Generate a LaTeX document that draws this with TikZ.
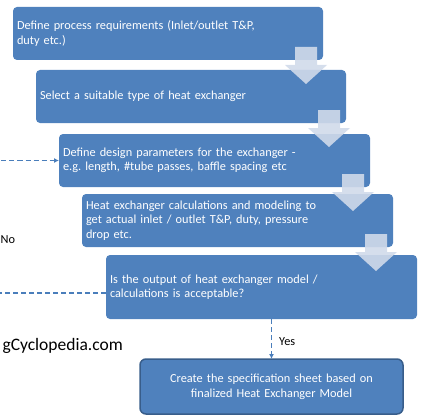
\documentclass[tikz,border=0pt]{standalone}
\usepackage{fontspec}
\setmainfont{Carlito}
\usetikzlibrary{calc,arrows.meta}
\frenchspacing
\definecolor{boxblue}{HTML}{4F81BD}
\definecolor{boxedge}{HTML}{385D8A}
\definecolor{arrfill}{HTML}{D0DAEA}
\definecolor{lineblue}{HTML}{4A7EBB}
\tikzset{
  stepbox/.style={rectangle, rounded corners=4pt, fill=boxblue, text=white,
    minimum width=#1, text width=#1-8pt, inner xsep=4pt, inner ysep=0pt, outer sep=0pt,
    align=left, font=\fontsize{12.3}{14.5}\selectfont\frenchspacing},
  finalbox/.style={rectangle, rounded corners=6pt, fill=boxblue, draw=boxedge, line width=1.5pt,
    text=white, minimum width=263pt, minimum height=55pt, text width=255pt, inner sep=0pt,
    outer sep=0pt, align=center, font=\fontsize{12.3}{15}\selectfont},
  blockarr/.style={fill=arrfill, fill opacity=0.9},
  dashlink/.style={draw=lineblue, line width=1.5pt, dash pattern=on 5pt off 3pt,
    -{Latex[length=5pt,width=5pt]}},
  plainlabel/.style={font=\fontsize{12.3}{14}\selectfont, text=black, inner sep=0pt}
}
\newcommand\bigarrow[1]{\fill[blockarr] ($(#1.south east)+(-28,-13)$) -- ++(22,0) -- ++(0,18) -- ++(10,0) -- ++(-21,19) -- ++(-21,-19) -- ++(10,0) -- cycle;}
\begin{document}
\begin{tikzpicture}[x=1pt,y=-1pt]
\clip (0,0) rectangle (434,420);
\useasboundingbox (0,0) rectangle (434,420);
\node[stepbox=310pt, minimum height=53pt] (b1) at (168,33.5) {Define process requirements (Inlet/outlet T\&P,\\duty etc.)};
\node[stepbox=310pt, minimum height=53pt] (b2) at (191,96.5) {Select a suitable type of heat exchanger};
\node[stepbox=311pt, minimum height=53pt] (b3) at (214.5,160.5) {Define design parameters for the exchanger -\\e.g.\ length, \#tube passes, baffle spacing etc};
\node[stepbox=311pt, minimum height=53pt] (b4) at (237.5,220.5) {Heat exchanger calculations and modeling to\\get actual inlet / outlet T\&P, duty, pressure\\drop etc.};
\node[stepbox=311pt, minimum height=64pt] (b5) at (261.5,287) {Is the output of heat exchanger model /\\calculations is acceptable?};
\node[finalbox] (b6) at (271.5,386.5) {Create the specification sheet based on\\finalized Heat Exchanger Model};
\bigarrow{b1}
\bigarrow{b2}
\bigarrow{b3}
\bigarrow{b4}
\coordinate (nofar) at (-20,293);
\draw[dashlink] ($(b5.west)+(0,6)$) -- (nofar) |- (b3.west);
\node[plainlabel, anchor=west] (nolabel) at (0.5,240) {No};
\draw[dashlink] (b5.south -| b6.north) -- (b6.north);
\node[plainlabel, anchor=west] (yeslabel) at (279,342) {Yes};
\node[font=\fontsize{17.5}{19}\selectfont, text=black, inner sep=0pt, anchor=east] (wm) at (123,346) {gCyclopedia.com};
\end{tikzpicture}
\end{document}
